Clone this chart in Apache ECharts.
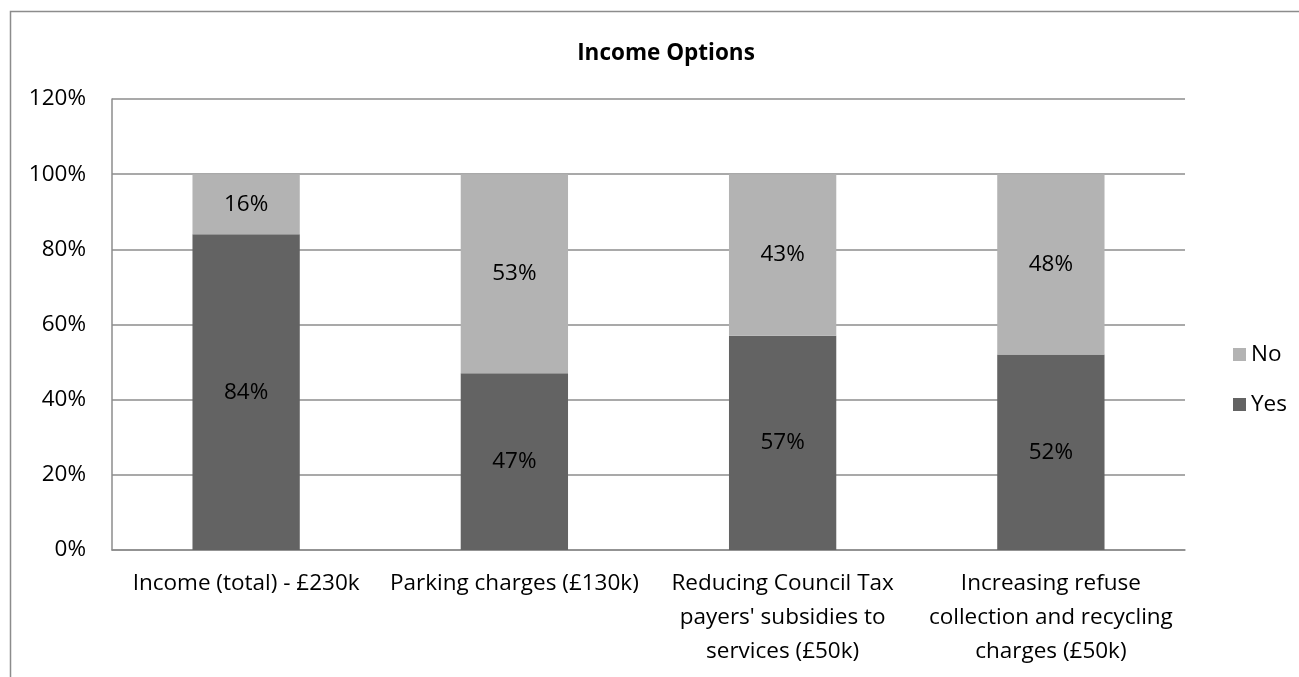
<!DOCTYPE html>
<html><head><meta charset="utf-8">
<script src="https://cdn.jsdelivr.net/npm/echarts@6/dist/echarts.min.js"></script>
<style>html,body{margin:0;padding:0;background:#fff}#c{width:1299px;height:677px}</style>
</head><body><div id="c"></div>
<script>
const categories = ["Income (total) - £230k", "Parking charges (£130k)", "Reducing Council Tax\npayers' subsidies to\nservices (£50k)", "Increasing refuse\ncollection and recycling\ncharges (£50k)"];
const yesValues = [84, 47, 57, 52];
const noValues = [16, 53, 43, 48];
const yTicks = [0, 20, 40, 60, 80, 100, 120];
const FONT = "Open Sans";
const FS = 22.5;
const chart = echarts.init(document.getElementById('c'), null, {renderer: 'canvas'});
chart.setOption({
  animation: false,
  textStyle: {fontFamily: FONT},
  graphic: [{type: 'rect', shape: {x: 10.5, y: 11.5, width: 1400, height: 800}, style: {fill: 'none', stroke: '#8c8c8c', lineWidth: 1.5}, silent: true}],
  title: {text: 'Income Options', left: 661, top: 36, textAlign: 'center', textStyle: {fontFamily: FONT, fontSize: 22.5, fontWeight: 'bold', color: '#000', lineHeight: 26}},
  legend: {orient: 'vertical', left: 1228, top: 338, itemWidth: 13, itemHeight: 13, itemGap: 27, icon: 'rect',
    data: ['No', 'Yes'], textStyle: {fontFamily: FONT, fontSize: FS, color: '#000', lineHeight: 22}},
  grid: {left: 112, right: 114, top: 99, bottom: 127, containLabel: false},
  xAxis: {type: 'category', data: categories,
    axisLine: {lineStyle: {color: '#8c8c8c', width: 1.5}}, axisTick: {show: false},
    axisLabel: {fontFamily: FONT, fontSize: FS, color: '#000', lineHeight: 34, margin: 17, interval: 0}},
  yAxis: {type: 'value', min: 0, max: 120, interval: 20,
    axisLine: {show: true, lineStyle: {color: '#8c8c8c', width: 1.5}}, axisTick: {show: false},
    splitLine: {lineStyle: {color: '#8c8c8c', width: 1.5}},
    axisLabel: {fontFamily: FONT, fontSize: FS, color: '#000', margin: 26, formatter: v => yTicks.includes(v) ? v + '%' : ''}},
  series: [
    {name: 'Yes', type: 'bar', stack: 's', data: yesValues, barWidth: '40%', itemStyle: {color: '#636363'},
     label: {show: true, position: 'inside', formatter: p => p.value + '%', fontFamily: FONT, fontSize: FS, color: '#000'}},
    {name: 'No', type: 'bar', stack: 's', data: noValues, barWidth: '40%', itemStyle: {color: '#b3b3b3'},
     label: {show: true, position: 'inside', formatter: p => p.value + '%', fontFamily: FONT, fontSize: FS, color: '#000'}}
  ]
});
</script></body></html>
